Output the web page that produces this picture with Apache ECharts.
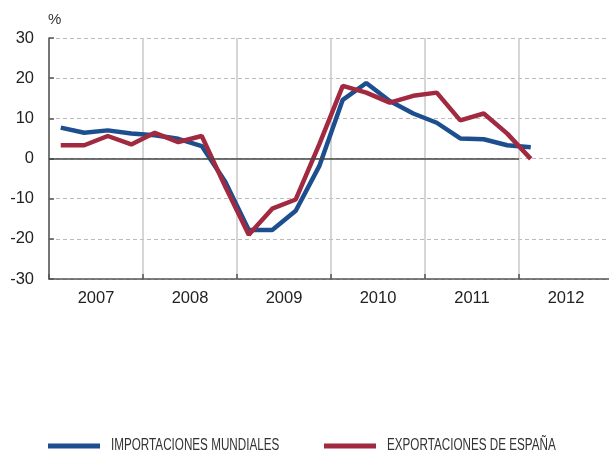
<!DOCTYPE html>
<html>
<head>
<meta charset="utf-8">
<script src="https://cdn.jsdelivr.net/npm/echarts@6/dist/echarts.min.js"></script>
<style>
  html, body { margin: 0; padding: 0; background: #fff; }
  #chart { width: 609px; height: 454px; }
</style>
</head>
<body>
<div id="chart"></div>
<script>
const years = ['2007', '2008', '2009', '2010', '2011', '2012']
const quarters = [
  '2007-1', '2007-2', '2007-3', '2007-4',
  '2008-1', '2008-2', '2008-3', '2008-4',
  '2009-1', '2009-2', '2009-3', '2009-4',
  '2010-1', '2010-2', '2010-3', '2010-4',
  '2011-1', '2011-2', '2011-3', '2011-4',
  '2012-1',
]
const importaciones = [
  7.7, 6.4, 7.0, 6.2,
  5.8, 4.9, 3.1, -5.8,
  -17.8, -17.8, -13.0, -1.9,
  14.6, 18.8, 14.3, 11.2,
  8.9, 5.0, 4.8, 3.3,
  2.8,
]
const exportaciones = [
  3.3, 3.3, 5.6, 3.5,
  6.4, 4.1, 5.6, -7.0,
  -19.0, -12.5, -10.2, 3.5,
  18.1, 16.4, 13.9, 15.6,
  16.4, 9.5, 11.2, 6.2,
  -0.1,
]
const seriesNames = ['IMPORTACIONES MUNDIALES', 'EXPORTACIONES DE ESPAÑA']
const colors = ['#1d4f8f', '#a12a40']

// quarter label -> position on the year axis (middle of the quarter)
const toX = (q) => {
  const [y, n] = q.split('-').map(Number)
  return y + (n - 0.5) / 4
}
const pairs = (vals) => vals.map((v, i) => [toX(quarters[i]), v])

const font = 'Liberation Sans, Arial, sans-serif'
const myChart = echarts.init(document.getElementById('chart'), null, { renderer: 'canvas' })

// legend drawn by hand: the original uses a condensed face we don't have,
// so the text is squeezed horizontally
const legendItem = (i, left) => ({
  type: 'group',
  x: left,
  y: 446,
  children: [
    { type: 'rect', shape: { x: 0, y: -2.5, width: 52, height: 5 }, style: { fill: colors[i] } },
    {
      type: 'text',
      x: 63,
      y: 0,
      scaleX: 0.73,
      style: {
        text: seriesNames[i],
        font: '16px ' + font,
        fill: '#333',
        verticalAlign: 'middle',
      },
    },
  ],
})

const option = {
  animation: false,
  grid: { left: 49, width: 564, top: 38, bottom: 175, outerBoundsMode: 'none' },
  graphic: [legendItem(0, 48), legendItem(1, 324)],
  xAxis: [
    {
      type: 'value',
      min: 2007,
      max: 2013,
      interval: 1,
      axisLine: { show: true, onZero: false, lineStyle: { color: '#555', width: 1.5 } },
      axisTick: { show: true, inside: true, length: 5, lineStyle: { color: '#555', width: 1.5 } },
      axisLabel: { show: false },
      splitLine: { show: true, lineStyle: { color: '#c8c8c8', width: 1.5 } },
    },
    {
      type: 'category',
      data: years,
      position: 'bottom',
      axisLine: { show: false },
      axisTick: { show: false },
      axisLabel: { fontFamily: font, fontSize: 16.5, color: '#222', margin: 11 },
      splitLine: { show: false },
    },
  ],
  yAxis: {
    type: 'value',
    min: -30,
    max: 30,
    interval: 10,
    name: '%',
    nameLocation: 'end',
    nameGap: 11,
    nameTextStyle: { fontFamily: font, fontSize: 15, color: '#333', align: 'left', padding: [0, 0, 0, -1] },
    axisLine: { show: true, onZero: false, lineStyle: { color: '#555', width: 1.5 } },
    axisTick: { show: true, inside: true, length: 5, lineStyle: { color: '#555', width: 1.5 } },
    axisLabel: { fontFamily: font, fontSize: 16.5, color: '#222', margin: 15 },
    splitLine: { show: true, lineStyle: { color: '#bbb', type: [4, 3], width: 1.2 } },
  },
  series: [
    {
      name: 'zero',
      type: 'line',
      data: [],
      z: 1,
      markLine: {
        silent: true,
        symbol: 'none',
        label: { show: false },
        lineStyle: { color: '#444', type: 'solid', width: 1.5 },
        data: [[{ coord: [2007, 0] }, { coord: [2012, 0] }]],
      },
    },
    {
      name: seriesNames[0],
      type: 'line',
      data: pairs(importaciones),
      showSymbol: false,
      z: 3,
      lineStyle: { color: colors[0], width: 4.5 },
      itemStyle: { color: colors[0] },
    },
    {
      name: seriesNames[1],
      type: 'line',
      data: pairs(exportaciones),
      showSymbol: false,
      z: 4,
      lineStyle: { color: colors[1], width: 4.5 },
      itemStyle: { color: colors[1] },
    },
  ],
}
myChart.setOption(option)
</script>
</body>
</html>
